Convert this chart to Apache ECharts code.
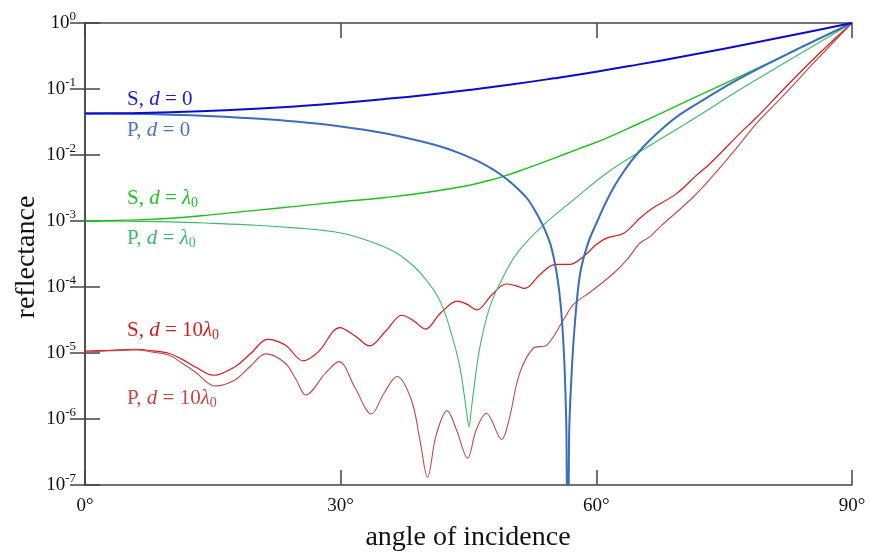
<!DOCTYPE html>
<html>
<head>
<meta charset="utf-8">
<script src="https://cdn.jsdelivr.net/npm/echarts@6/dist/echarts.min.js"></script>
<style>
  html, body { margin: 0; padding: 0; background: #fff; }
  #chart { width: 870px; height: 559px; }
</style>
</head>
<body>
<div id="chart"></div>
<script>
  // [angle in degrees, reflectance]
  var sD0 = [[0, 0.0426], [5, 0.0430], [10, 0.0443], [15, 0.0468], [20, 0.050], [25, 0.0548], [30, 0.0612],
    [35, 0.070], [40, 0.0814], [45, 0.0967], [50, 0.117], [55, 0.145], [60, 0.183], [65, 0.236],
    [70, 0.308], [75, 0.408], [80, 0.546], [85, 0.737], [90, 1]]

  var pD0 = [[0, 0.0426], [5, 0.0422], [10, 0.0409], [15, 0.0387], [20, 0.0357], [25, 0.0318], [30, 0.0271],
    [35, 0.0216], [40, 0.0155], [42, 0.0131], [44, 0.0106], [46, 0.0082], [48, 0.0059], [49, 0.0048],
    [50, 0.0038], [51, 0.0029], [52, 0.0021], [53, 0.0013], [53.8, 0.00082], [54.2, 0.00062],
    [54.6, 0.00045], [55, 0.00028], [55.35, 0.00016], [55.65, 0.000085], [55.9, 0.00004], [56.1, 0.000017],
    [56.3, 0.0000049], [56.5, 0.0000005], [56.63, 1e-10], [56.8, 0.0000005], [57.1, 0.0000049],
    [57.5, 0.00003], [58.1, 0.00016], [59, 0.00045], [60, 0.00092], [61, 0.00178], [62, 0.00316],
    [63, 0.0051], [64, 0.0078], [65, 0.0112], [66, 0.0155], [68, 0.0269], [70, 0.0427], [73, 0.0741],
    [76, 0.126], [80, 0.236], [83, 0.368], [85, 0.492], [87, 0.655], [90, 1]]

  var sL0 = [[0, 0.0010], [5, 0.00103], [10, 0.0011], [15, 0.00125], [20, 0.00145], [25, 0.00168],
    [30, 0.00196], [35, 0.00225], [40, 0.0027], [45, 0.00345], [47, 0.0040], [49, 0.0047], [52, 0.0064],
    [55, 0.0089], [58, 0.0125], [61, 0.0176], [65, 0.030], [70, 0.060], [75, 0.12], [80, 0.24],
    [85, 0.49], [90, 1]]

  var pL0 = [[0, 0.0010], [5, 0.00099], [10, 0.00097], [15, 0.00092], [20, 0.00086], [25, 0.00078],
    [28, 0.00072], [31, 0.00062], [34, 0.00046], [36.5, 0.00033], [38.5, 0.00021], [40, 0.00013],
    [41.7, 0.000060], [43.2, 0.0000158], [44, 0.000006], [44.5, 0.0000023], [44.8, 0.0000012],
    [45.06, 0.00000076], [45.3, 0.0000013], [45.56, 0.00000245], [46.35, 0.0000125], [47.5, 0.000050],
    [48.7, 0.000114], [50.66, 0.00032], [53.8, 0.00087], [57.3, 0.00208], [61.2, 0.0053], [65.1, 0.0112],
    [71.2, 0.034], [76.9, 0.099], [80, 0.172], [85, 0.415], [90, 1]]

  var s10L0 = [[0, 1.07e-5], [3, 1.1e-5], [5.9, 1.14e-5], [8, 1.08e-5], [9.8, 9.9e-6], [11.4, 8.0e-6],
    [12.9, 6.2e-6], [15.1, 4.6e-6], [17.6, 6.2e-6], [19.5, 1.0e-5], [21.4, 1.61e-5], [23.5, 1.32e-5],
    [25.6, 7.6e-6], [27.4, 1.05e-5], [29.9, 2.43e-5], [31.7, 1.81e-5], [33.4, 1.28e-5], [35.3, 2.15e-5],
    [37.2, 3.73e-5], [38.6, 3.05e-5], [39.95, 2.3e-5], [41.7, 4.0e-5], [43.7, 6.1e-5], [44.8, 5.5e-5],
    [46.0, 4.5e-5], [47.7, 7.5e-5], [49.4, 1.11e-4], [50.5, 1.05e-4], [51.6, 9.5e-5], [53.4, 1.55e-4],
    [55.2, 2.2e-4], [56.9, 2.2e-4], [58.5, 2.9e-4], [60.0, 4.4e-4], [61.2, 5.5e-4], [63.2, 6.5e-4],
    [65.1, 1.1e-3], [66.4, 1.5e-3], [69.4, 2.6e-3], [71.8, 5.0e-3], [73.3, 7.3e-3], [76.9, 0.0216],
    [78.8, 0.037], [82, 0.10], [86, 0.33], [90, 1]]

  var p10L0 = [[0, 1.03e-5], [3, 1.08e-5], [5.9, 1.11e-5], [8, 1.03e-5], [9.8, 9.3e-6], [11.4, 7.0e-6],
    [12.9, 5.2e-6], [15.25, 3.16e-6], [17.6, 3.9e-6], [19.4, 6.3e-6], [21.2, 9.7e-6], [23.5, 7.0e-6],
    [24.8, 3.9e-6], [25.9, 2.31e-6], [28.2, 4.9e-6], [29.8, 7.4e-6], [31.7, 2.95e-6], [33.6, 1.19e-6],
    [35.1, 2.48e-6], [36.6, 4.4e-6], [38.3, 1.94e-6], [39.3, 4.8e-7], [40.2, 1.31e-7], [41.2, 5.7e-7],
    [42.5, 1.34e-6], [43.6, 6.8e-7], [44.9, 2.54e-7], [45.9, 6.8e-7], [47.1, 1.22e-6], [48.9, 4.9e-7],
    [49.75, 9.7e-7], [51, 4.9e-6], [52.6, 1.18e-5], [54.2, 1.32e-5], [56.1, 3.1e-5], [57.3, 5.4e-5],
    [59.3, 8.4e-5], [62, 1.6e-4], [63.6, 2.6e-4], [65.1, 4.6e-4], [66.3, 5.8e-4], [67.5, 8.2e-4],
    [71.4, 2.33e-3], [74, 5.4e-3], [76.9, 0.015], [78.8, 0.0302], [82, 0.081], [86, 0.29], [90, 1]]

  var xTicks = [0, 30, 60, 90]
  var curveLabels = [
    {text: '{n|S, }{i|d}{n| = 0}', color: '#1c1cc8', y: 99},
    {text: '{n|P, }{i|d}{n| = 0}', color: '#4a78c0', y: 130},
    {text: '{n|S, }{i|d}{n| = }{i|λ}{s|0}', color: '#1fc41f', y: 198},
    {text: '{n|P, }{i|d}{n| = }{i|λ}{s|0}', color: '#3fba6c', y: 238},
    {text: '{n|S, }{i|d}{n| = 10}{i|λ}{s|0}', color: '#d41c1c', y: 330},
    {text: '{n|P, }{i|d}{n| = 10}{i|λ}{s|0}', color: '#c24848', y: 398}
  ]

  var serif = 'Liberation Serif'
  var frame = '#444'

  function line(name, data, color, width, smooth) {
    return {
      name: name,
      type: 'line',
      data: data,
      showSymbol: false,
      smooth: smooth,
      clip: true,
      lineStyle: {color: color, width: width}
    }
  }

  var chart = echarts.init(document.getElementById('chart'))
  chart.setOption({
    animation: false,
    backgroundColor: '#fff',
    grid: {left: 85, right: 18, top: 23, bottom: 74},
    xAxis: [
      {
        type: 'value', min: 0, max: 90, interval: 30, position: 'bottom',
        axisLine: {lineStyle: {color: frame, width: 1.5}},
        axisTick: {inside: true, length: 15, lineStyle: {color: frame, width: 1.5}},
        splitLine: {show: false},
        axisLabel: {
          margin: 12, color: '#111', fontFamily: serif, fontSize: 19,
          formatter: function (v) { return v + '°' }
        }
      },
      {
        type: 'value', min: 0, max: 90, interval: 30, position: 'top',
        axisLine: {lineStyle: {color: frame, width: 1.5}},
        axisTick: {inside: true, length: 15, lineStyle: {color: frame, width: 1.5}},
        splitLine: {show: false},
        axisLabel: {show: false}
      }
    ],
    yAxis: [
      {
        type: 'log', logBase: 10, min: 1e-7, max: 1, interval: 1, position: 'left',
        axisLine: {show: true, lineStyle: {color: frame, width: 1.5}},
        axisTick: {show: true, inside: true, length: 15, lineStyle: {color: frame, width: 1.5}},
        splitLine: {show: false},
        minorTick: {show: false},
        axisLabel: {
          margin: 9, color: '#111',
          formatter: function (v) {
            var e = Math.round(Math.log(v) / Math.LN10)
            return '{b|10}{s|' + (e === 0 ? '0' : '-' + (-e)) + '}'
          },
          rich: {
            b: {fontFamily: serif, fontSize: 19, color: '#111'},
            s: {fontFamily: serif, fontSize: 13, color: '#111', padding: [0, 0, 12, 0]}
          }
        }
      },
      {
        type: 'log', logBase: 10, min: 1e-7, max: 1, interval: 1, position: 'right',
        axisLine: {show: true, lineStyle: {color: frame, width: 1.5}},
        axisTick: {show: true, inside: true, length: 15, lineStyle: {color: frame, width: 1.5}},
        splitLine: {show: false},
        axisLabel: {show: false}
      }
    ],
    graphic: curveLabels.map(function (l) {
      return {
        type: 'text', left: 127, top: l.y - 10, z: 100,
        style: {
          text: l.text, fill: l.color,
          rich: {
            n: {fontFamily: serif, fontSize: 21, fill: l.color},
            i: {fontFamily: serif, fontSize: 21, fontStyle: 'italic', fill: l.color},
            s: {fontFamily: serif, fontSize: 14, fill: l.color, padding: [9, 0, 0, 0]}
          }
        }
      }
    }).concat([
      {
        type: 'text', x: 468, y: 524, z: 100,
        style: {text: 'angle of incidence', fontFamily: serif, fontSize: 28, fill: '#111',
          align: 'center', verticalAlign: 'top'}
      },
      {
        type: 'text', x: 13, y: 257, rotation: Math.PI / 2, z: 100,
        style: {text: 'reflectance', fontFamily: serif, fontSize: 28, fill: '#111',
          align: 'center', verticalAlign: 'top'}
      }
    ]),
    series: [
      line('S, d=10λ0', s10L0, '#d81818', 1.2, 0.35),
      line('P, d=10λ0', p10L0, '#c04848', 1.1, 0.35),
      line('P, d=λ0', pL0, '#3dba6a', 1.1, 0.4),
      line('S, d=λ0', sL0, '#19c419', 1.4, 0.5),
      line('P, d=0', pD0, '#3b6dbf', 2, 0.35),
      line('S, d=0', sD0, '#0a0ad0', 2, 0.5)
    ]
  })
</script>
</body>
</html>
